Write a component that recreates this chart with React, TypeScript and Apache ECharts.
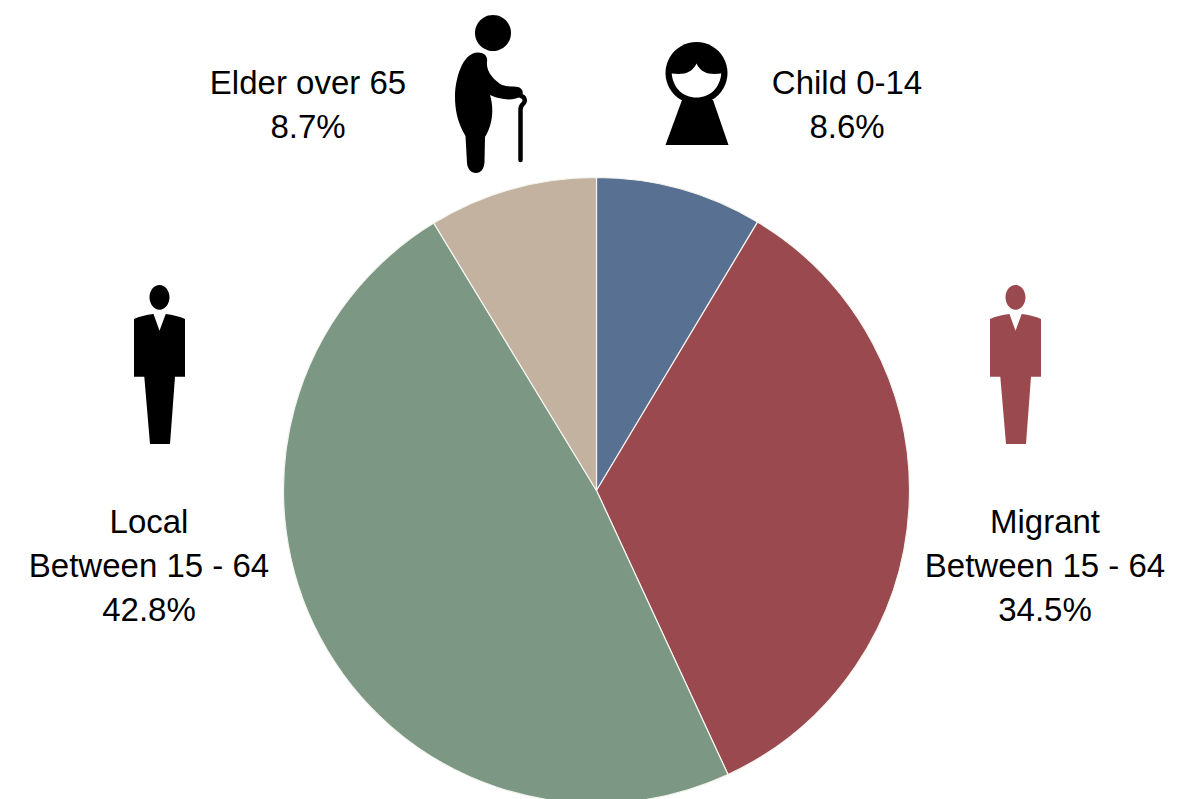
import React, { useEffect, useRef } from "react";
import * as echarts from "echarts";

const categories = ["Child 0-14", "Migrant\nBetween 15 - 64", "Local\nBetween 15 - 64", "Elder over 65"];
const sliceValues = [8.6, 34.5, 48.2, 8.7];
const shownPercents = ["8.6%", "34.5%", "42.8%", "8.7%"];
const sliceColors = ["#587192", "#9A4A4F", "#7C9885", "#C2B29F"];
const labelCenters = [
  [847, 104.5],
  [1045, 565.5],
  [149, 565.5],
  [308, 104.5],
];

const MAN =
  "M159.5 285 C165 285 169.5 290.5 169.5 297.3 C169.5 304.2 165 309.8 159.5 309.8 C154 309.8 149.5 304.2 149.5 297.3 C149.5 290.5 154 285 159.5 285 Z " +
  "M134 319 C139 316.5 146 315 153.5 314 L159.5 330.7 L165.7 314 C173 315 180 316.5 185 319 L185 376.7 L175 376.7 L170 444 L150 444 L144.3 376.7 L134 376.7 Z";
const ELDER =
  "M478 52.5 C484 52.5 488 56 487 62 C486 72 494 80 502 85 C508 87 514 86 518 87 C522 88 524 92 522 96 C517 99 510 100 504 99 C498 98 494 97 490 95 C494 108 493 124 485 137 L484.5 162 C484 169 481 173 476 173 C471 173 467.5 169 467 163 L465.5 136 C457 122 455 108 455 97 C455 80 462 52.5 478 52.5 Z";
const CANE = "M521 96 C525 97 526 101 523 104 C520.5 106 520.5 108 520.5 110 L520.5 160";
const FACE =
  "M671.7 73.5 C684 75 692 73 696.5 63.5 C701 73 709 75 721.3 73.5 C720 88 710 97.5 696.5 97.5 C683 97.5 673 88 671.7 73.5 Z";
const GIRL_BODY = "M682 100 L713 100 L728.5 145 L665.5 145 Z";

echarts.graphic.registerShape("iconMan", echarts.graphic.extendPath(MAN, {}));
echarts.graphic.registerShape("iconElder", echarts.graphic.extendPath(ELDER, {}));
echarts.graphic.registerShape("iconCane", echarts.graphic.extendPath(CANE, {}));
echarts.graphic.registerShape("iconFace", echarts.graphic.extendPath(FACE, {}));
echarts.graphic.registerShape("iconGirlBody", echarts.graphic.extendPath(GIRL_BODY, {}));

export default function App() {
  const ref = useRef<HTMLDivElement>(null);
  useEffect(() => {
    const chart = echarts.init(ref.current!, null, { renderer: "svg" });
    chart.setOption({
      animation: false,
      backgroundColor: "#ffffff",
      graphic: [
        { type: "circle", shape: { cx: 493, cy: 33, r: 18 }, style: { fill: "#000" } },
        { type: "iconElder", x: 0, y: 0, style: { fill: "#000" } },
        { type: "iconCane", x: 0, y: 0, style: { fill: "none", stroke: "#000", lineWidth: 4.5, lineCap: "round" } },
        { type: "circle", shape: { cx: 696.5, cy: 73, r: 31 }, style: { fill: "#000" } },
        { type: "iconGirlBody", x: 0, y: 0, style: { fill: "#000" } },
        { type: "iconFace", x: 0, y: 0, style: { fill: "#fff" } },
        { type: "iconMan", x: 0, y: 0, style: { fill: "#000" } },
        { type: "iconMan", x: 856, y: 0, style: { fill: sliceColors[1] } },
      ],
      series: [
        {
          type: "pie",
          center: [596.5, 490.5],
          radius: [0, 313],
          startAngle: 90,
          clockwise: true,
          avoidLabelOverlap: false,
          itemStyle: { borderColor: "#f4f4ee", borderWidth: 1.2 },
          emphasis: { disabled: true },
          labelLine: { show: false },
          label: {
            show: true,
            position: "outside",
            color: "#000",
            fontFamily: "Liberation Sans",
            fontSize: 33,
            lineHeight: 44,
            align: "center",
            formatter: (p: any) => `${categories[p.dataIndex]}\n${shownPercents[p.dataIndex]}`,
          },
          labelLayout: (p: any) => ({
            x: labelCenters[p.dataIndex][0],
            y: labelCenters[p.dataIndex][1],
            align: "center",
            verticalAlign: "middle",
          }),
          data: categories.map((name, i) => ({
            name,
            value: sliceValues[i],
            itemStyle: { color: sliceColors[i] },
          })),
        },
      ],
    });
    return () => chart.dispose();
  }, []);
  return (
    <div
      ref={ref}
      style={{ position: "absolute", left: 0, top: 0, width: 1199, height: 799 }}
    />
  );
}
